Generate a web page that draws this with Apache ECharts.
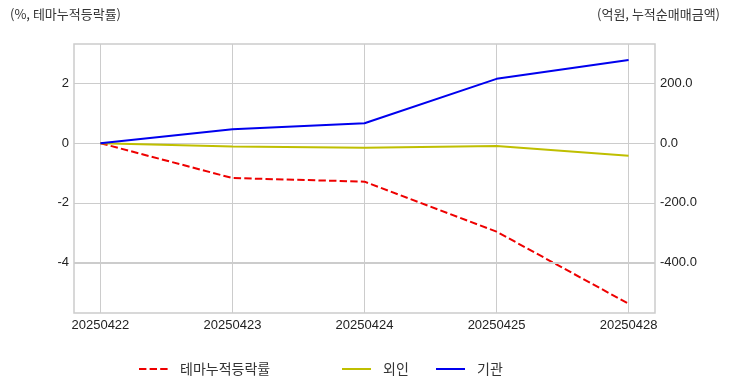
<!DOCTYPE html>
<html><head><meta charset="utf-8">
<script src="https://cdn.jsdelivr.net/npm/echarts@6/dist/echarts.min.js"></script>
<style>html,body{margin:0;padding:0;background:#fff}#c{width:732px;height:392px}</style>
</head><body><div id="c"></div>
<script>
const categories = ['20250422','20250423','20250424','20250425','20250428'];
const themeReturn = [0, -1.17, -1.29, -2.97, -5.39];
const foreign = [0, -11, -15, -9, -42];
const institution = [0, 47, 67, 216, 279];
const leftTicks = [-4, -2, 0, 2];
const rightTicks = [-400, -200, 0, 200];
const seriesNames = ['테마누적등락률', '외인', '기관'];

const KFONT = '"Noto Sans CJK KR", "Noto Sans", sans-serif';
const NFONT = '"Liberation Sans", "Noto Sans CJK KR", sans-serif';
const grid = '#cccccc';
const colors = ['#ee0000', '#bfbf00', '#0000ee'];
const xIdx = categories.map((c, i) => i);
const pairs = arr => arr.map((v, i) => [i, v]);

const legendBase = (name, left) => ({
  left: left, top: 362, padding: 0, itemWidth: 29, itemHeight: 14, orient: 'horizontal',
  textStyle: {fontSize: 14, color: '#333', fontFamily: KFONT, padding: [0, 0, 0, 7]},
  itemStyle: {color: 'transparent', borderColor: 'transparent', borderWidth: 0},
  data: [name]
});

const chart = echarts.init(document.getElementById('c'));
chart.setOption({
  animation: false,
  textStyle: {fontFamily: KFONT},
  grid: {left: 74, right: 77, top: 44, bottom: 79, show: true, borderColor: '#cccccc', borderWidth: 1.5},
  graphic: [
    {type: 'text', left: 10, top: 8, style: {text: '(%, 테마누적등락률)', font: '13px ' + KFONT, fill: '#333'}},
    {type: 'text', right: 12, top: 8, style: {text: '(억원, 누적순매매금액)', font: '13px ' + KFONT, fill: '#333'}}
  ],
  legend: [
    legendBase(seriesNames[0], 138),
    legendBase(seriesNames[1], 341),
    legendBase(seriesNames[2], 435)
  ],
  xAxis: {
    type: 'value', min: -0.2, max: 4.2,
    axisLine: {show: false}, axisTick: {show: false, customValues: xIdx},
    axisLabel: {customValues: xIdx, formatter: v => categories[Math.round(v)] || '', fontSize: 13, color: '#222', margin: 6, fontFamily: NFONT},
    splitLine: {show: true, lineStyle: {color: grid, width: 1}}
  },
  yAxis: [
    {type: 'value', min: -5.7, max: 3.33, position: 'left',
     axisLine: {show: false}, axisTick: {show: false, customValues: leftTicks},
     axisLabel: {customValues: leftTicks, fontSize: 13, color: '#222', margin: 5, fontFamily: NFONT, padding: [2, 0, 0, 0]},
     splitLine: {show: true, lineStyle: {color: grid, width: 1}}},
    {type: 'value', min: -570, max: 333, position: 'right',
     axisLine: {show: false}, axisTick: {show: false, customValues: rightTicks},
     axisLabel: {customValues: rightTicks, formatter: v => v.toFixed(1), fontSize: 13, color: '#222', margin: 5, fontFamily: NFONT, padding: [2, 0, 0, 0]},
     splitLine: {show: false}}
  ],
  series: [
    {name: seriesNames[0], type: 'line', yAxisIndex: 0, data: pairs(themeReturn), symbol: 'none', z: 3,
     lineStyle: {color: colors[0], width: 2, type: [7.4, 3.2]}, itemStyle: {color: colors[0]},
     markLine: {silent: true, symbol: 'none', label: {show: false}, animation: false,
       lineStyle: {color: grid, width: 2, type: 'solid'}, data: [{yAxis: leftTicks[0]}]}},
    {name: seriesNames[1], type: 'line', yAxisIndex: 1, data: pairs(foreign), symbol: 'none', z: 3,
     lineStyle: {color: colors[1], width: 2}, itemStyle: {color: colors[1]}},
    {name: seriesNames[2], type: 'line', yAxisIndex: 1, data: pairs(institution), symbol: 'none', z: 3,
     lineStyle: {color: colors[2], width: 2}, itemStyle: {color: colors[2]}}
  ]
});
</script></body></html>
